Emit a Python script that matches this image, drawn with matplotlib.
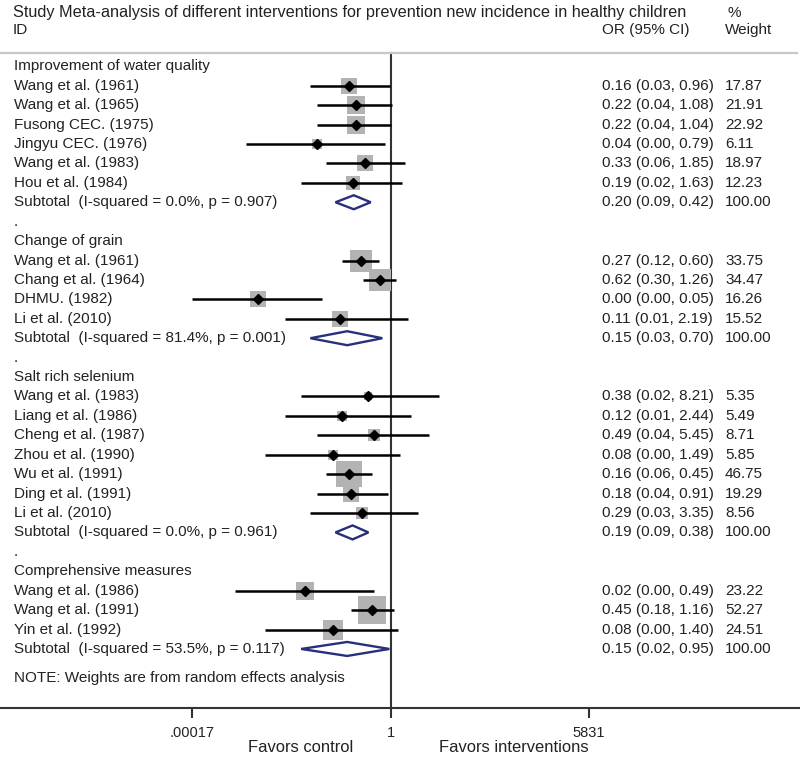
import numpy as np
import matplotlib.pyplot as plt

plt.rcParams['font.family'] = ['Liberation Sans', 'DejaVu Sans']

# data
group_names = ["Improvement of water quality", "Change of grain",
               "Salt rich selenium", "Comprehensive measures"]

studies1 = ["Wang et al. (1961)", "Wang et al. (1965)", "Fusong CEC. (1975)",
            "Jingyu CEC. (1976)", "Wang et al. (1983)", "Hou et al. (1984)"]
or1 = [0.16, 0.22, 0.22, 0.04, 0.33, 0.19]
lo1 = [0.03, 0.04, 0.04, 0.0018, 0.06, 0.02]
hi1 = [0.96, 1.08, 1.04, 0.79, 1.85, 1.63]
w1 = [17.87, 21.91, 22.92, 6.11, 18.97, 12.23]

studies2 = ["Wang et al. (1961)", "Chang et al. (1964)", "DHMU. (1982)", "Li et al. (2010)"]
or2 = [0.27, 0.62, 0.003, 0.11]
lo2 = [0.12, 0.30, 0.00017, 0.01]
hi2 = [0.60, 1.26, 0.05, 2.19]
w2 = [33.75, 34.47, 16.26, 15.52]

studies3 = ["Wang et al. (1983)", "Liang et al. (1986)", "Cheng et al. (1987)",
            "Zhou et al. (1990)", "Wu et al. (1991)", "Ding et al. (1991)", "Li et al. (2010)"]
or3 = [0.38, 0.12, 0.49, 0.08, 0.16, 0.18, 0.29]
lo3 = [0.02, 0.01, 0.04, 0.0041, 0.06, 0.04, 0.03]
hi3 = [8.21, 2.44, 5.45, 1.49, 0.45, 0.91, 3.35]
w3 = [5.35, 5.49, 8.71, 5.85, 46.75, 19.29, 8.56]

studies4 = ["Wang et al. (1986)", "Wang et al. (1991)", "Yin et al. (1992)"]
or4 = [0.0237, 0.45, 0.08]
lo4 = [0.0011, 0.18, 0.0041]
hi4 = [0.49, 1.16, 1.40]
w4 = [23.22, 52.27, 24.51]

sub_or = [0.20, 0.15, 0.19, 0.15]
sub_lo = [0.09, 0.03, 0.09, 0.02]
sub_hi = [0.42, 0.70, 0.38, 0.95]
sub_i2 = ["0.0%", "81.4%", "0.0%", "53.5%"]
sub_p = ["0.907", "0.001", "0.961", "0.117"]

tick_vals = [0.00017, 1, 5831]
tick_labels = [".00017", "1", "5831"]

groups = [(studies1, or1, lo1, hi1, w1), (studies2, or2, lo2, hi2, w2),
          (studies3, or3, lo3, hi3, w3), (studies4, or4, lo4, hi4, w4)]

txt = '#222222'
fs = 11.0

fig = plt.figure(figsize=(8, 7.59), dpi=100)
ax = fig.add_axes([0, 51 / 759, 1, 708 / 759])
ax.set_xscale('log')
ax.set_xlim(10 ** -7.424, 10 ** 7.785)
ax.set_ylim(33.04, -3.414)
tr = ax.get_yaxis_transform()

# header
ax.text(13 / 800, -2.76, "Study Meta-analysis of different interventions for prevention new incidence in healthy children",
        transform=tr, ha='left', va='center', fontsize=11.7, color=txt)
ax.text(13 / 800, -1.88, "ID", transform=tr, ha='left', va='center', fontsize=fs, color=txt)
ax.text(602 / 800, -1.88, "OR (95% CI)", transform=tr, ha='left', va='center', fontsize=fs, color=txt)
ax.text(727 / 800, -2.76, "%", transform=tr, ha='left', va='center', fontsize=fs, color=txt)
ax.text(725 / 800, -1.88, "Weight", transform=tr, ha='left', va='center', fontsize=fs, color=txt)
ax.axhline(-0.70, xmin=0, xmax=0.996, color='#c8c8c8', lw=1.6)

row = 0
for g, (names, ors, los, his, ws) in enumerate(groups):
    if g > 0:
        ax.text(14 / 800, row, ".", transform=tr, ha='left', va='center', fontsize=fs, color=txt)
        row += 1
    ax.text(14 / 800, row, group_names[g], transform=tr, ha='left', va='center', fontsize=fs, color=txt)
    row += 1
    for i in range(len(names)):
        ax.text(14 / 800, row, names[i], transform=tr, ha='left', va='center', fontsize=fs, color=txt)
        ax.text(602 / 800, row, "%.2f (%.2f, %.2f)" % (ors[i], los[i], his[i]),
                transform=tr, ha='left', va='center', fontsize=fs, color=txt)
        ax.text(725 / 800, row, "%.2f" % ws[i], transform=tr, ha='left', va='center', fontsize=fs, color=txt)
        side = 3.85 * np.sqrt(ws[i]) * 0.72
        ax.scatter([ors[i]], [row], marker='s', s=side ** 2, color='#b3b3b3', linewidths=0, zorder=2)
        ax.plot([los[i], his[i]], [row, row], color='black', lw=1.8, zorder=3, solid_capstyle='butt')
        ax.plot([ors[i]], [row], marker='D', ms=4.8, color='black', zorder=4)
        row += 1
    ax.text(14 / 800, row, "Subtotal  (I-squared = %s, p = %s)" % (sub_i2[g], sub_p[g]),
            transform=tr, ha='left', va='center', fontsize=fs, color=txt)
    ax.text(602 / 800, row, "%.2f (%.2f, %.2f)" % (sub_or[g], sub_lo[g], sub_hi[g]),
            transform=tr, ha='left', va='center', fontsize=fs, color=txt)
    ax.text(725 / 800, row, "100.00", transform=tr, ha='left', va='center', fontsize=fs, color=txt)
    h = 0.36
    ax.fill([sub_lo[g], sub_or[g], sub_hi[g], sub_or[g]], [row, row - h, row, row + h],
            facecolor='none', edgecolor='#27307a', lw=1.7, zorder=3)
    row += 1

ax.text(14 / 800, row + 0.5, "NOTE: Weights are from random effects analysis",
        transform=tr, ha='left', va='center', fontsize=fs, color=txt)

ax.plot([1, 1], [-0.70, 33.04], color='#333333', lw=1.5, zorder=1)

for s in ['top', 'left', 'right']:
    ax.spines[s].set_visible(False)
ax.spines['bottom'].set_linewidth(1.5)
ax.spines['bottom'].set_color('#333333')
ax.set_yticks([])
ax.minorticks_off()
ax.set_xticks(tick_vals)
ax.set_xticklabels(tick_labels)
ax.tick_params(axis='x', length=7.2, width=1.5, pad=6, labelsize=10.5, colors='#333333', labelcolor=txt)

fig.text(353 / 800, 1 - 748 / 759, "Favors control", ha='right', va='center', fontsize=11.9, color=txt)
fig.text(439 / 800, 1 - 748 / 759, "Favors interventions", ha='left', va='center', fontsize=11.9, color=txt)

fig.savefig('out.png', dpi=100)
